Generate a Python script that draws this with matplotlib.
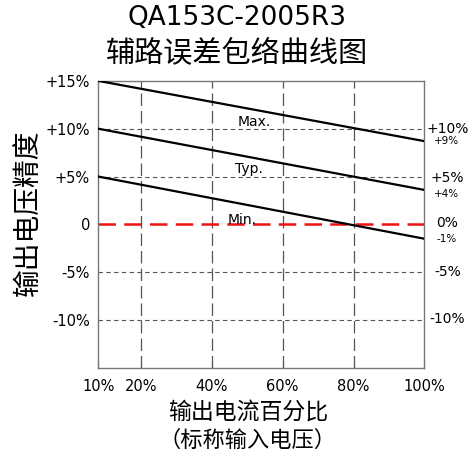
import matplotlib.pyplot as plt

plt.rcParams['font.family'] = ['DejaVu Sans', 'Noto Sans CJK SC']
cjk = ['Noto Sans CJK SC', 'DejaVu Sans']

# x axis: output current percentage (left edge of the drawn axis labelled 10%)
x_ends = [8, 100]
max_line = [15, 8.7]
typ_line = [10, 3.6]
min_line = [5, -1.5]

x_grid = [20, 40, 60, 80]
x_tick_pos = [8, 20, 40, 60, 80, 100]
x_tick_labels = ['10%', '20%', '40%', '60%', '80%', '100%']

y_grid = [10, 5, -5, -10]
y_tick_pos = [15, 10, 5, 0, -5, -10]
y_tick_labels = ['+15%', '+10%', '+5%', '0', '-5%', '-10%']

right_big_pos = [10, 4.9, 0.1, -5, -9.9]
right_big_labels = ['+10%', '+5%', '0%', '-5%', '-10%']
right_small_pos = [8.7, 3.2, -1.5]
right_small_labels = ['+9%', '+4%', '-1%']

curve_names = ['Max.', 'Typ.', 'Min.']
curve_label_x = [52, 50.5, 48.6]
curve_label_y = [10.25, 5.4, 0.05]

fig = plt.figure(figsize=(4.74, 4.57), dpi=100)
ax = fig.add_axes([0.2074, 0.195, 0.688, 0.628])

for xv in x_grid:
    ax.axvline(xv, color='#555555', lw=0.9, dashes=(10, 4), zorder=1)
for yv in y_grid:
    ax.axhline(yv, color='#555555', lw=0.8, dashes=(4, 3), zorder=1)
ax.axhline(0, color='#ee1111', lw=1.8, dashes=(7, 3.3), zorder=2)

for vals in [max_line, typ_line, min_line]:
    ax.plot(x_ends, vals, color='black', lw=1.6, zorder=3)

for name, lx, ly in zip(curve_names, curve_label_x, curve_label_y):
    ax.text(lx, ly, name, fontsize=10, ha='center', va='baseline', zorder=4)

ax.set_xlim(8, 100)
ax.set_ylim(-15, 15)
ax.set_xticks(x_tick_pos)
ax.set_xticklabels(x_tick_labels, fontsize=10.5)
ax.set_yticks(y_tick_pos)
ax.set_yticklabels(y_tick_labels, fontsize=10.5)
ax.tick_params(axis='y', length=0, pad=6)
ax.tick_params(axis='x', direction='in', length=4, pad=8, color='#555555')
for sp in ax.spines.values():
    sp.set_color('#777777')
    sp.set_linewidth(1.0)

for yv, lab in zip(right_big_pos, right_big_labels):
    ax.text(106.5, yv, lab, fontsize=10, ha='center', va='center', clip_on=False)
for yv, lab in zip(right_small_pos, right_small_labels):
    ax.text(106.3, yv, lab, fontsize=7.5, ha='center', va='center', clip_on=False)

fig.text(0.5, 0.96, 'QA153C-2005R3', fontsize=19, ha='center', va='center')
fig.text(0.5, 0.882, '辅路误差包络曲线图', fontsize=21, ha='center', va='center', family=cjk)
fig.text(0.06, 0.535, '输出电压精度', fontsize=20, rotation=90, ha='center', va='center', family=cjk)
fig.text(0.523, 0.098, '输出电流百分比', fontsize=16.5, ha='center', va='center', family=cjk)
fig.text(0.523, 0.037, '（标称输入电压）', fontsize=16, ha='center', va='center', family=cjk)

fig.savefig('out.png', dpi=100)
